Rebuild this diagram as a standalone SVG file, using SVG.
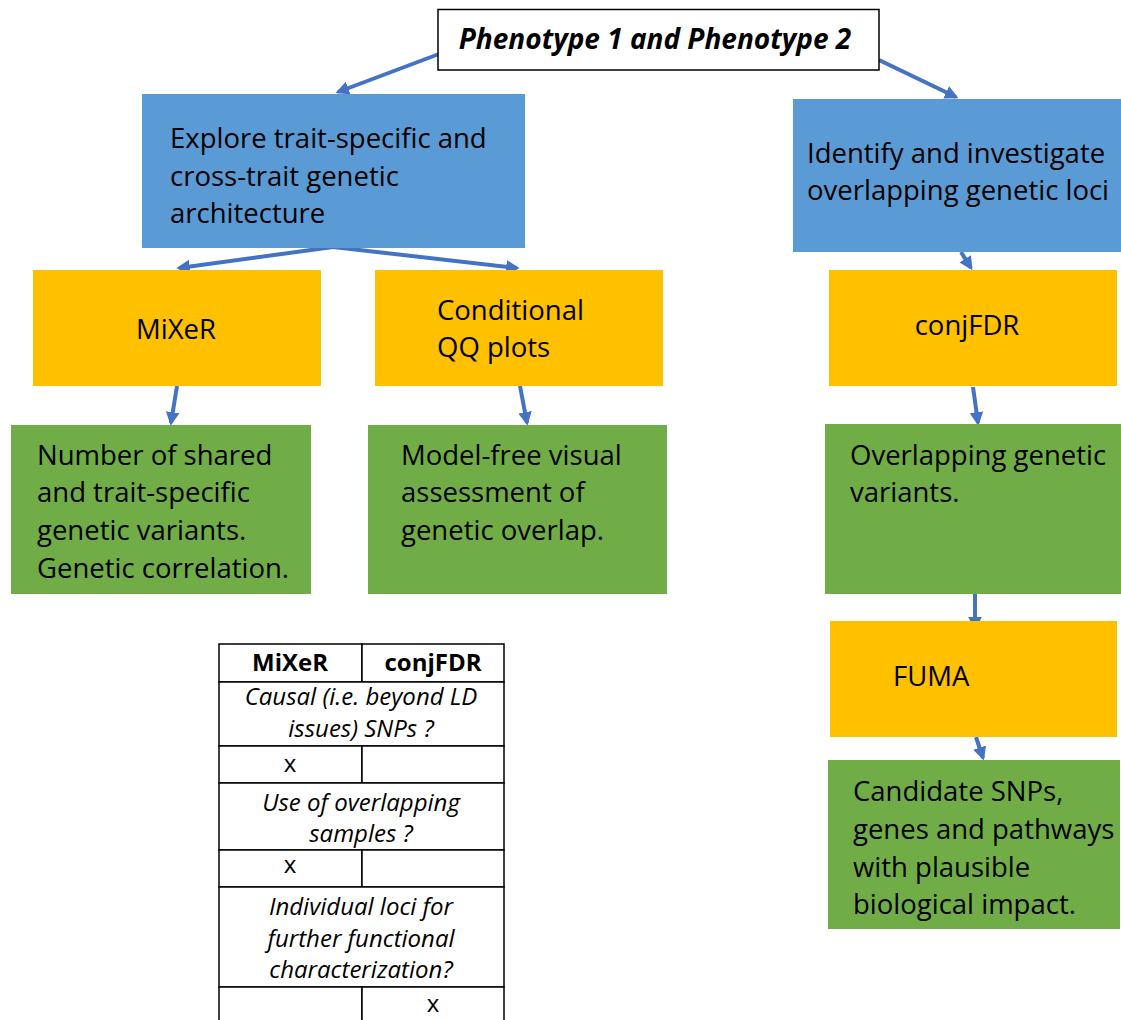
<svg xmlns="http://www.w3.org/2000/svg" width="1121" height="1020" viewBox="0 0 1121 1020">
<defs>
<style>
text{font-family:"Open Sans","Noto Sans","Liberation Sans",sans-serif;fill:#000}
.t{font-size:27.5px}
.blue{fill:#5B9BD5}
.orange{fill:#FFC000}
.green{fill:#70AD47}
.tb{font-size:24px;text-anchor:middle}
.it{font-style:italic}
.cell{fill:#fff;stroke:#000;stroke-width:1.5}
.arr{stroke:#4472C4;stroke-width:4;fill:none;marker-end:url(#ah)}
</style>
<marker id="ah" viewBox="0 0 10 10" refX="8" refY="5" markerWidth="3.4" markerHeight="3.8" orient="auto" markerUnits="strokeWidth">
<path d="M0,0 L10,5 L0,10 z" fill="#4472C4"/>
</marker>
</defs>
<rect width="1121" height="1020" fill="#fff"/>

<g id="connectors">
<path class="arr" d="M439,54 L338,92"/>
<path class="arr" d="M879,60 L956,97"/>
<path class="arr" d="M333,247 L179,268"/>
<path class="arr" d="M333,247 L517,268"/>
<path class="arr" d="M961,252 L971,268"/>
<path class="arr" d="M177,386 L171,423"/>
<path class="arr" d="M520,386 L527,423"/>
<path class="arr" d="M973,387 L978,423"/>
<path class="arr" d="M975,594 L975,628"/>
<path class="arr" d="M976,737 L983,758"/>
</g>

<g id="phenotypes">
<rect x="438" y="9.5" width="441" height="60.5" fill="#fff" stroke="#000" stroke-width="1.5"/>
<text x="655" y="49" text-anchor="middle" font-size="28" font-weight="bold" font-style="italic">Phenotype 1 and Phenotype 2</text>
</g>

<g id="explore">
<rect class="blue" x="142" y="94" width="383" height="154"/>
<text class="t" x="170" y="148">Explore trait-specific and</text>
<text class="t" x="170" y="186">cross-trait genetic</text>
<text class="t" x="170" y="223">architecture</text>
</g>

<g id="identify">
<rect class="blue" x="793" y="99" width="328" height="153"/>
<text class="t" x="807" y="163">Identify and investigate</text>
<text class="t" x="807" y="200">overlapping genetic loci</text>
</g>

<g id="mixer">
<rect class="orange" x="33" y="270" width="288" height="116"/>
<text class="t" x="176" y="339" text-anchor="middle">MiXeR</text>
</g>

<g id="cqq">
<rect class="orange" x="375" y="270" width="288" height="116"/>
<text class="t" x="437" y="320">Conditional</text>
<text class="t" x="437" y="357">QQ plots</text>
</g>

<g id="conjfdr">
<rect class="orange" x="829" y="270" width="288" height="116"/>
<text class="t" x="967" y="335" text-anchor="middle">conjFDR</text>
</g>

<g id="number-shared">
<rect class="green" x="11" y="425" width="300" height="169"/>
<text class="t" x="37" y="465">Number of shared</text>
<text class="t" x="37" y="502">and trait-specific</text>
<text class="t" x="37" y="540">genetic variants.</text>
<text class="t" x="37" y="578">Genetic correlation.</text>
</g>

<g id="model-free">
<rect class="green" x="368" y="425" width="299" height="169"/>
<text class="t" x="401" y="465">Model-free visual</text>
<text class="t" x="401" y="502">assessment of</text>
<text class="t" x="401" y="540">genetic overlap.</text>
</g>

<g id="overlapping">
<rect class="green" x="825" y="424" width="296" height="170"/>
<text class="t" x="850" y="465">Overlapping genetic</text>
<text class="t" x="850" y="502">variants.</text>
</g>

<g id="fuma">
<rect class="orange" x="830" y="621" width="287" height="116"/>
<text class="t" x="893" y="686">FUMA</text>
</g>

<g id="candidate">
<rect class="green" x="828" y="760" width="292" height="169"/>
<text class="t" x="853" y="801">Candidate SNPs,</text>
<text class="t" x="853" y="839">genes and pathways</text>
<text class="t" x="853" y="877">with plausible</text>
<text class="t" x="853" y="914">biological impact.</text>
</g>

<g id="table">
<rect class="cell" x="219" y="644" width="143" height="38"/>
<rect class="cell" x="362" y="644" width="142" height="38"/>
<rect class="cell" x="219" y="682" width="285" height="64"/>
<rect class="cell" x="219" y="746" width="143" height="37"/>
<rect class="cell" x="362" y="746" width="142" height="37"/>
<rect class="cell" x="219" y="783" width="285" height="67"/>
<rect class="cell" x="219" y="850" width="143" height="37"/>
<rect class="cell" x="362" y="850" width="142" height="37"/>
<rect class="cell" x="219" y="887" width="285" height="100"/>
<rect class="cell" x="219" y="987" width="143" height="40"/>
<rect class="cell" x="362" y="987" width="142" height="40"/>
<text class="tb" x="290" y="671" font-weight="bold">MiXeR</text>
<text class="tb" x="433" y="671" font-weight="bold">conjFDR</text>
<text class="tb it" x="361" y="705">Causal (i.e. beyond LD</text>
<text class="tb it" x="361" y="737">issues) SNPs ?</text>
<text class="tb" x="290" y="772">x</text>
<text class="tb it" x="361" y="811">Use of overlapping</text>
<text class="tb it" x="361" y="842">samples ?</text>
<text class="tb" x="290" y="873">x</text>
<text class="tb it" x="361" y="915">Individual loci for</text>
<text class="tb it" x="361" y="947">further functional</text>
<text class="tb it" x="361" y="978">characterization?</text>
<text class="tb" x="433" y="1012">x</text>
</g>
</svg>
